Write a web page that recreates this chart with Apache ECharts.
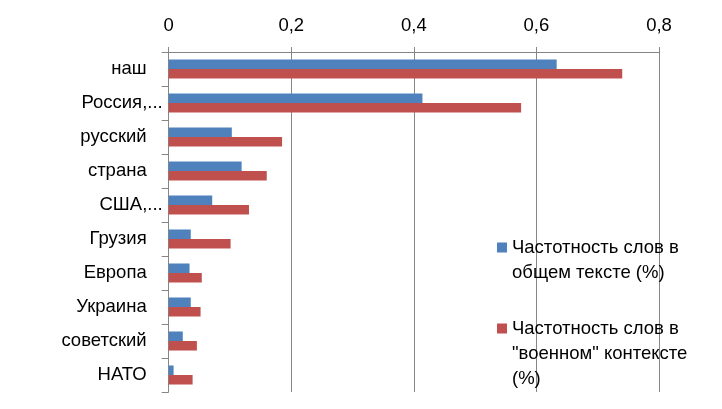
<!DOCTYPE html>
<html><head><meta charset="utf-8">
<script src="https://cdn.jsdelivr.net/npm/echarts@6/dist/echarts.min.js"></script>
<style>html,body{margin:0;padding:0;background:#fff}#c{width:722px;height:409px}</style>
</head><body><div id="c"></div>
<script>
const categories = ["наш","Россия,...","русский","страна","США,...","Грузия","Европа","Украина","советский","НАТО"];
const generalText = [0.633,0.414,0.103,0.119,0.071,0.036,0.034,0.036,0.023,0.008];
const militaryContext = [0.740,0.575,0.185,0.160,0.131,0.101,0.054,0.052,0.046,0.039];
const xTicks = [0,0.2,0.4,0.6,0.8];
const seriesNames = ["Частотность слов в общем тексте (%)", "Частотность слов в \"военном\" контексте (%)"];
const legendLabels = ["\nЧастотность слов в\nобщем тексте (%)", "\n\nЧастотность слов в\n\"военном\" контексте\n(%)"];

const FONT = "Liberation Sans";
const FS = 18.5;
const chart = echarts.init(document.getElementById('c'), null, {renderer:'canvas'});
const legendCommon = {orient:'vertical', left:497, padding:0, itemWidth:10, itemHeight:10, itemGap:0, icon:'rect',
  textStyle:{fontFamily: FONT, fontSize: FS, color:'#000', lineHeight: 25},
  formatter:n=>legendLabels[seriesNames.indexOf(n)]};
chart.setOption({
  animation:false,
  grid:{left:168.7, right:63, top:52, bottom:17, containLabel:false},
  xAxis:{type:'value', position:'top', min:xTicks[0], max:xTicks[xTicks.length-1], interval:0.2,
    axisLine:{show:true, lineStyle:{color:'#868686'}},
    axisTick:{show:true, length:5, lineStyle:{color:'#868686'}},
    splitLine:{show:true, lineStyle:{color:'#868686'}},
    axisLabel:{fontFamily:FONT, fontSize:FS, color:'#000', margin:17,
      formatter:v=>{ const t = xTicks.find(x=>Math.abs(x-v)<1e-9); return String(t===undefined?v:t).replace('.',','); }}
  },
  yAxis:{type:'category', data:categories, inverse:true,
    axisLine:{show:true, lineStyle:{color:'#868686'}},
    axisTick:{show:true, length:7, alignWithLabel:false, lineStyle:{color:'#868686'}},
    axisLabel:{fontFamily:FONT, fontSize:FS, color:'#000', margin:6,
      formatter:v=> v.endsWith('...') ? v : '{p|'+v+'}',
      rich:{p:{fontFamily:FONT, fontSize:FS, color:'#000', padding:[0,16,0,0]}}}
  },
  legend:[
    Object.assign({data:[seriesNames[0]], top:210}, legendCommon),
    Object.assign({data:[seriesNames[1]], top:266}, legendCommon)
  ],
  series:[
    {name:seriesNames[0], type:'bar', data:generalText, itemStyle:{color:'#4F81BD'}, barGap:'0%', barCategoryGap:'44%'},
    {name:seriesNames[1], type:'bar', data:militaryContext, itemStyle:{color:'#C0504D'}, barGap:'0%', barCategoryGap:'44%'}
  ]
});
</script></body></html>
